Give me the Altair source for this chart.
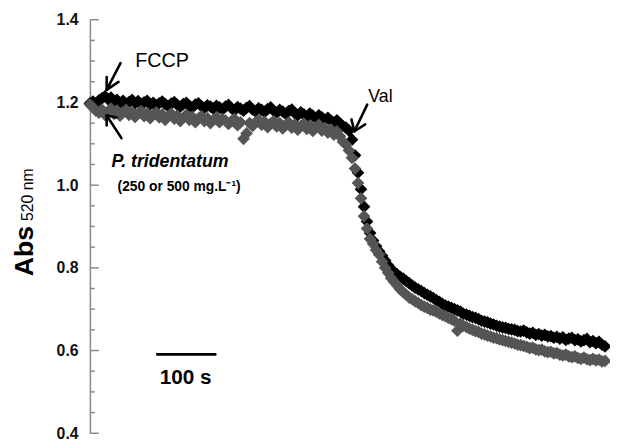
import altair as alt
import pandas as pd

# ---- data ----
STEP = 5  # seconds between readings
black_vals = [
    1.198, 1.202, 1.195, 1.205, 1.210, 1.215, 1.208, 1.212, 1.203, 1.206,
    1.199, 1.204, 1.197, 1.201, 1.206, 1.198, 1.203, 1.196, 1.200, 1.204,
    1.195, 1.199, 1.193, 1.198, 1.202, 1.196, 1.191, 1.197, 1.201, 1.194,
    1.190, 1.196, 1.199, 1.192, 1.188, 1.195, 1.198, 1.191, 1.187, 1.193,
    1.190, 1.185, 1.192, 1.188, 1.183, 1.190, 1.194, 1.186, 1.181, 1.189,
    1.185, 1.180, 1.187, 1.191, 1.183, 1.178, 1.186, 1.182, 1.177, 1.184,
    1.188, 1.180, 1.175, 1.182, 1.178, 1.172, 1.179, 1.183, 1.174, 1.169,
    1.176, 1.171, 1.166, 1.173, 1.168, 1.162, 1.169, 1.164, 1.158, 1.163,
    1.156, 1.151, 1.157, 1.149, 1.143, 1.139, 1.132, 1.110, 1.072, 1.030,
    0.990, 0.948, 0.912, 0.884, 0.866, 0.852, 0.840, 0.829, 0.818, 0.806,
    0.797, 0.790, 0.784, 0.778, 0.774, 0.768, 0.763, 0.757, 0.752, 0.748,
    0.744, 0.739, 0.735, 0.731, 0.727, 0.722, 0.718, 0.713, 0.709, 0.706,
    0.703, 0.700, 0.697, 0.694, 0.689, 0.687, 0.684, 0.681, 0.679, 0.676,
    0.672, 0.670, 0.668, 0.665, 0.663, 0.660, 0.658, 0.656, 0.655, 0.652,
    0.651, 0.650, 0.647, 0.646, 0.648, 0.644, 0.641, 0.643, 0.638, 0.640,
    0.636, 0.638, 0.634, 0.635, 0.631, 0.633, 0.629, 0.632, 0.626, 0.629,
    0.631, 0.625, 0.627, 0.622, 0.625, 0.628, 0.620, 0.623, 0.618, 0.621,
    0.614, 0.610,
]
gray_vals = [
    1.195, 1.188, 1.180, 1.175, 1.183, 1.170, 1.178, 1.185, 1.172, 1.180,
    1.168, 1.176, 1.182, 1.170, 1.177, 1.165, 1.173, 1.179, 1.167, 1.174,
    1.162, 1.170, 1.176, 1.164, 1.171, 1.158, 1.167, 1.173, 1.161, 1.168,
    1.155, 1.163, 1.170, 1.158, 1.165, 1.152, 1.161, 1.167, 1.155, 1.162,
    1.150, 1.158, 1.164, 1.152, 1.160, 1.156, 1.148, 1.155, 1.160, 1.145,
    1.152, 1.112, 1.125, 1.150, 1.143, 1.152, 1.158, 1.146, 1.153, 1.140,
    1.149, 1.155, 1.142, 1.150, 1.137, 1.146, 1.152, 1.139, 1.147, 1.134,
    1.143, 1.149, 1.136, 1.144, 1.131, 1.140, 1.146, 1.132, 1.138, 1.127,
    1.135, 1.122, 1.130, 1.118, 1.105, 1.098, 1.084, 1.066, 1.040, 1.005,
    0.968, 0.925, 0.895, 0.870, 0.858, 0.843, 0.832, 0.815, 0.800, 0.788,
    0.775, 0.766, 0.757, 0.748, 0.741, 0.735, 0.728, 0.724, 0.719, 0.715,
    0.710, 0.706, 0.703, 0.699, 0.697, 0.694, 0.690, 0.686, 0.683, 0.679,
    0.676, 0.672, 0.648, 0.665, 0.660, 0.657, 0.653, 0.650, 0.647, 0.645,
    0.641, 0.639, 0.636, 0.634, 0.631, 0.630, 0.627, 0.625, 0.623, 0.621,
    0.619, 0.617, 0.614, 0.613, 0.611, 0.609, 0.606, 0.607, 0.603, 0.601,
    0.602, 0.598, 0.596, 0.597, 0.593, 0.594, 0.590, 0.588, 0.590, 0.586,
    0.584, 0.586, 0.582, 0.580, 0.583, 0.579, 0.577, 0.580, 0.576, 0.578,
    0.574, 0.575,
]
major_ticks = [0.4, 0.6, 0.8, 1.0, 1.2, 1.4]
minor_ticks = [0.45, 0.5, 0.55, 0.65, 0.7, 0.75, 0.85, 0.9, 0.95,
               1.05, 1.1, 1.15, 1.25, 1.3, 1.35]

# annotation arrows (time s, absorbance)
arrow_t = [50.8, 27.8, 27.8, 52.4, 27.8, 27.8, 460.3, 439.0, 439.0]
arrow_v = [1.295, 1.2305, 1.2305, 1.1136, 1.1685, 1.1685, 1.1947, 1.1303, 1.1303]
arrow_t2 = [27.8, 27.8, 47.5, 27.8, 27.8, 44.2, 439.0, 434.1, 457.0]
arrow_v2 = [1.2305, 1.2616, 1.2496, 1.1685, 1.1446, 1.1637, 1.1303, 1.159, 1.147]

scalebar_t = [110]
scalebar_t2 = [210]
scalebar_v = [0.591]

times_b = [STEP * i for i in range(len(black_vals))]
times_g = [STEP * i for i in range(len(gray_vals))]

FONT = "Liberation Sans"
XD = [0, 860]
YD = [0.4, 1.4]

xs = alt.Scale(domain=XD, nice=False, zero=False)
ys = alt.Scale(domain=YD, nice=False, zero=False)
yaxis = alt.Axis(values=major_ticks, format=".1f", ticks=False, grid=False,
                 domainColor="#8a8a8a", domainWidth=1.5, labelFont=FONT,
                 labelFontSize=16, labelFontWeight="bold", labelColor="#111111",
                 labelPadding=12, title=None)


def X(f):
    return alt.X(f, type="quantitative", scale=xs, axis=None)


def Y(f):
    return alt.Y(f, type="quantitative", scale=ys, axis=yaxis)


df_b = pd.DataFrame({"t": times_b, "v": black_vals})
df_g = pd.DataFrame({"t": times_g, "v": gray_vals})

major = alt.Chart(pd.DataFrame({"v": major_ticks})).mark_rule(
    color="#8a8a8a", strokeWidth=1.5).encode(
    x=alt.value(0), x2=alt.value(9), y=Y("v"))
minor = alt.Chart(pd.DataFrame({"v": minor_ticks})).mark_rule(
    color="#8a8a8a", strokeWidth=1.5).encode(
    x=alt.value(0), x2=alt.value(5), y=Y("v"))

pts_b = alt.Chart(df_b).mark_point(shape="diamond", filled=True, size=165,
                                   opacity=1, color="#000000").encode(x=X("t"), y=Y("v"))
pts_g = alt.Chart(df_g).mark_point(shape="diamond", filled=True, size=165,
                                   opacity=1, color="#555555").encode(x=X("t"), y=Y("v"))

arrows = alt.Chart(pd.DataFrame({"t": arrow_t, "v": arrow_v, "t2": arrow_t2, "v2": arrow_v2})
                   ).mark_rule(color="#000000", strokeWidth=2.6, strokeCap="round").encode(
    x=X("t"), y=Y("v"), x2="t2", y2="v2")

scalebar = alt.Chart(pd.DataFrame({"t": scalebar_t, "t2": scalebar_t2, "v": scalebar_v})
                     ).mark_rule(color="#000000", strokeWidth=2.8).encode(
    x=X("t"), x2="t2", y=Y("v"))

labels_df = pd.DataFrame({
    "t": [75.3, 462.0, 36.0, 45.9, 159.0],
    "v": [1.285, 1.202, 1.0444, 0.9847, 0.520],
    "txt": ["FCCP", "Val", "P. tridentatum", "(250 or 500 mg.L\u207b\u00b9)", "100 s"],
})


def txt(i, **kw):
    return alt.Chart(labels_df.iloc[[i]]).mark_text(font=FONT, color="#000000", **kw).encode(
        x=X("t"), y=Y("v"), text="txt:N")


t_fccp = txt(0, fontSize=20, fontWeight="normal", align="left", baseline="alphabetic")
t_val = txt(1, fontSize=18, fontWeight="normal", align="left", baseline="alphabetic")
t_pt = txt(2, fontSize=18, fontWeight="bold", fontStyle="italic", align="left", baseline="alphabetic")
t_conc = txt(3, fontSize=14, fontWeight="bold", align="left", baseline="alphabetic")
t_100 = txt(4, fontSize=21, fontWeight="bold", align="center", baseline="alphabetic")

title_df = pd.DataFrame({"txt": ["Abs", "520 nm"]})
t_abs = alt.Chart(title_df.iloc[[0]]).mark_text(
    font=FONT, fontSize=27, fontWeight="bold", angle=270, align="left",
    baseline="alphabetic", color="#000000").encode(
    x=alt.value(-58), y=alt.value(260), text="txt:N")
t_sub = alt.Chart(title_df.iloc[[1]]).mark_text(
    font=FONT, fontSize=16, fontWeight="normal", angle=270, align="left",
    baseline="alphabetic", color="#000000").encode(
    x=alt.value(-58), y=alt.value(204), text="txt:N")

chart = alt.layer(
    minor, major, pts_b, pts_g, arrows, scalebar,
    t_fccp, t_val, t_pt, t_conc, t_100, t_abs, t_sub,
).properties(
    width=525, height=419,
    autosize=alt.AutoSizeParams(type="none"),
    padding={"left": 83, "top": 9, "right": 2, "bottom": 7},
    background="white",
).configure_view(stroke=None)

chart.save("out.html", embed_options={"renderer": "svg", "actions": False})
